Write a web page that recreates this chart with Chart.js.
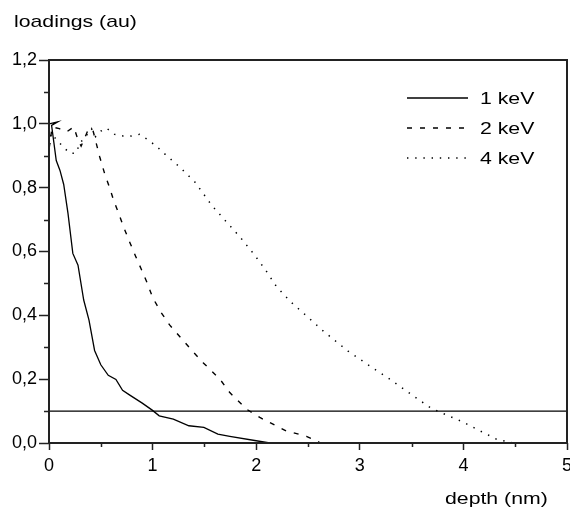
<!DOCTYPE html>
<html>
<head>
<meta charset="utf-8">
<script src="https://cdn.jsdelivr.net/npm/chart.js@4.4.1/dist/chart.umd.min.js"></script>
<style>
  html, body { margin: 0; padding: 0; background: #fff; }
  #c { display: block; }
</style>
</head>
<body>
<canvas id="c" width="570" height="508"></canvas>
<script>
// ---- data ----
const seriesLabels = ['1 keV', '2 keV', '4 keV'];

const depth1 = [0, 0.085, 0.025, 0.07, 0.106, 0.142, 0.183, 0.23, 0.28, 0.335, 0.386, 0.44, 0.5, 0.572, 0.646, 0.71, 0.78, 0.9, 0.996, 1.064, 1.2, 1.35, 1.495, 1.63, 1.745, 2.0, 2.13];
const load1  = [1.0, 1.006, 0.995, 0.885, 0.854, 0.81, 0.72, 0.594, 0.557, 0.448, 0.385, 0.29, 0.245, 0.212, 0.199, 0.165, 0.15, 0.125, 0.103, 0.085, 0.075, 0.054, 0.049, 0.028, 0.021, 0.007, 0.0];

const depth2 = [0, 0.03, 0.1, 0.17, 0.24, 0.28, 0.31, 0.37, 0.42, 0.49, 0.537, 0.585, 0.624, 0.672, 0.72, 0.778, 0.836, 0.89, 0.95, 1.0, 1.08, 1.164, 1.277, 1.39, 1.49, 1.65, 1.745, 1.906, 2.035, 2.29, 2.485, 2.58, 2.62];
const load2  = [0.92, 0.99, 0.985, 0.975, 0.99, 0.95, 0.93, 0.975, 0.985, 0.896, 0.844, 0.80, 0.76, 0.72, 0.677, 0.63, 0.585, 0.545, 0.5, 0.456, 0.41, 0.37, 0.328, 0.286, 0.251, 0.2, 0.158, 0.106, 0.08, 0.038, 0.021, 0.007, 0.0];

const depth4 = [0, 0.02, 0.13, 0.2, 0.26, 0.3, 0.36, 0.41, 0.45, 0.5, 0.553, 0.634, 0.715, 0.795, 0.875, 0.955, 1.036, 1.106, 1.263, 1.41, 1.57, 1.707, 1.85, 1.977, 2.09, 2.196, 2.337, 2.49, 2.65, 2.806, 2.886, 3.13, 3.29, 3.45, 3.67, 3.75, 3.995, 4.16, 4.32, 4.48, 5.0];
const load4  = [0.91, 0.97, 0.93, 0.908, 0.908, 0.94, 0.963, 0.985, 0.96, 0.977, 0.987, 0.967, 0.962, 0.962, 0.967, 0.95, 0.93, 0.909, 0.864, 0.817, 0.745, 0.695, 0.643, 0.592, 0.542, 0.49, 0.441, 0.397, 0.35, 0.309, 0.288, 0.234, 0.2, 0.163, 0.113, 0.1, 0.066, 0.038, 0.012, 0.0, 0.0];

const thresholdLevel = 0.1;
const depthRange = [0, 5];
const loadRange = [0, 1.2];
const xTickLabels = ['0', '1', '2', '3', '4', '5'];
const yTickLabels = ['0,0', '0,2', '0,4', '0,6', '0,8', '1,0', '1,2'];

const xTitle = 'depth (nm)';
const yTitle = 'loadings (au)';

// ---- build ----
const FONT = '"Liberation Sans", Arial, sans-serif';
const INK = '#000';
const TICK = '#222';
const STRETCH = 1.25;   // reference text is drawn wider than tall

function pts(xs, ys) { return xs.map((x, i) => ({ x: x, y: ys[i] })); }

const datasets = [
  { label: seriesLabels[0], data: pts(depth1, load1), borderColor: INK, borderWidth: 1.3, borderDash: [] },
  { label: seriesLabels[1], data: pts(depth2, load2), borderColor: INK, borderWidth: 1.4, borderDash: [5, 8] },
  { label: seriesLabels[2], data: pts(depth4, load4), borderColor: INK, borderWidth: 1.5, borderDash: [1.4, 6.8] },
  { label: 'threshold', data: [{ x: depthRange[0], y: thresholdLevel }, { x: depthRange[1], y: thresholdLevel }],
    borderColor: INK, borderWidth: 1.3, borderDash: [], isRef: true }
].map(d => Object.assign({ showLine: true, pointRadius: 0, pointHoverRadius: 0, tension: 0, fill: false }, d));

function stretchedText(ctx, text, x, y) {
  ctx.save();
  ctx.translate(x, y);
  ctx.scale(STRETCH, 1);
  ctx.fillText(text, 0, 0);
  ctx.restore();
}

const framePlugin = {
  id: 'frame',
  afterDatasetsDraw(chart) {
    const { ctx, chartArea: a } = chart;
    ctx.save();
    ctx.strokeStyle = TICK;
    ctx.lineWidth = 2;
    ctx.strokeRect(a.left, a.top, a.right - a.left, a.bottom - a.top);
    // minor ticks (half steps) from the library's own scales
    ctx.lineWidth = 1.5;
    const xs = chart.scales.x, ys = chart.scales.y;
    ctx.beginPath();
    xs.ticks.forEach(t => {
      if (!Number.isInteger(t.value)) {
        const px = Math.round(xs.getPixelForValue(t.value)) + 0.5;
        ctx.moveTo(px, a.bottom); ctx.lineTo(px, a.bottom + 4);
      }
    });
    ys.ticks.forEach(t => {
      if (Math.round(t.value * 10) % 2 !== 0) {
        const py = Math.round(ys.getPixelForValue(t.value)) + 0.5;
        ctx.moveTo(a.left, py); ctx.lineTo(a.left - 5, py);
      }
    });
    ctx.stroke();
    ctx.restore();
  },
  afterDraw(chart) {
    const { ctx } = chart;
    ctx.save();
    ctx.fillStyle = '#000';
    ctx.font = '17px ' + FONT;
    ctx.textBaseline = 'alphabetic';
    ctx.textAlign = 'left';
    stretchedText(ctx, yTitle, 14, 27);
    stretchedText(ctx, xTitle, 445, 504);
    // legend
    const lx0 = 407, lx1 = 468, ly0 = 98, step = 30;
    chart.data.datasets.filter(d => !d.isRef).forEach((d, i) => {
      const y = ly0 + i * step;
      ctx.strokeStyle = d.borderColor;
      ctx.lineWidth = d.borderWidth;
      ctx.setLineDash(d.borderDash || []);
      ctx.beginPath();
      ctx.moveTo(lx0, y);
      ctx.lineTo(lx1, y);
      ctx.stroke();
      ctx.setLineDash([]);
      ctx.textBaseline = 'alphabetic';
      stretchedText(ctx, d.label, 480, y + 6);
    });
    ctx.restore();
  }
};

new Chart(document.getElementById('c'), {
  type: 'scatter',
  data: { datasets },
  options: {
    responsive: false,
    animation: false,
    events: [],
    layout: { padding: { top: 60, right: 3, left: 0, bottom: 0 } },
    plugins: { legend: { display: false }, title: { display: false }, tooltip: { enabled: false } },
    scales: {
      x: {
        type: 'linear',
        min: depthRange[0], max: depthRange[1],
        border: { display: false },
        grid: {
          drawOnChartArea: false, drawTicks: true, tickLength: 7, tickWidth: 1.5,
          tickColor: (c) => Number.isInteger(c.tick && c.tick.value) ? TICK : 'rgba(0,0,0,0)'
        },
        ticks: {
          stepSize: 0.5, autoSkip: false, maxRotation: 0, padding: 5, color: '#000',
          font: { family: FONT, size: 18 },
          callback: (v) => Number.isInteger(v) ? xTickLabels[v] : ''
        },
        afterFit(scale) { scale.paddingLeft = 0; scale.paddingRight = 0; scale.height = 65; }
      },
      y: {
        type: 'linear',
        min: loadRange[0], max: loadRange[1],
        border: { display: false },
        grid: {
          drawOnChartArea: false, drawTicks: true, tickLength: 10, tickWidth: 1.5,
          tickColor: (c) => (c.tick && Math.round(c.tick.value * 10) % 2 === 0) ? TICK : 'rgba(0,0,0,0)'
        },
        ticks: {
          stepSize: 0.1, autoSkip: false, padding: 2, color: '#000',
          font: { family: FONT, size: 18 },
          callback: (v) => { const k = Math.round(v * 10); return k % 2 === 0 ? yTickLabels[k / 2] : ''; }
        },
        afterFit(scale) { scale.width = 49; scale.paddingTop = 0; scale.paddingBottom = 0; }
      }
    }
  },
  plugins: [framePlugin]
});
</script>
</body>
</html>
